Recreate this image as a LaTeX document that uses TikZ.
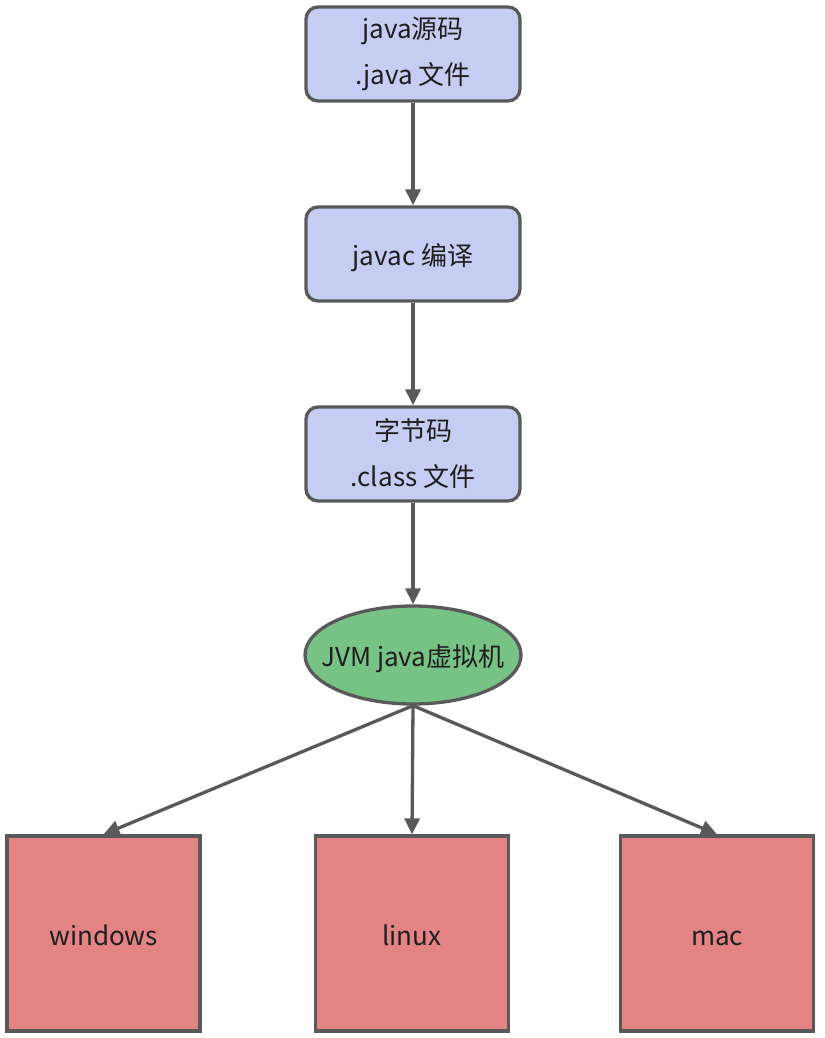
\documentclass[tikz,border=0pt]{standalone}
\usepackage{fontspec}
\setmainfont{Noto Sans CJK SC}
\usetikzlibrary{arrows.meta,shapes.geometric}
\definecolor{edge}{HTML}{595959}
\definecolor{bluefill}{HTML}{C6CDF2}
\definecolor{greenfill}{HTML}{77C386}
\definecolor{redfill}{HTML}{E48384}
\definecolor{txt}{HTML}{1E1E1E}
\begin{document}
\begin{tikzpicture}[x=1pt,y=-1pt,
  base/.style={draw=edge,line width=3.3pt,text=txt,font=\fontsize{26}{46}\selectfont,align=center,inner sep=0pt},
  oneline/.style={text height=23pt,text depth=0pt},
  stepbox/.style={base,fill=bluefill,rounded corners=12pt,minimum width=214pt,minimum height=94pt},
  vm/.style={base,oneline,fill=greenfill,ellipse,inner xsep=-30pt,minimum width=216pt,minimum height=98pt},
  osbox/.style={base,oneline,fill=redfill,minimum width=193pt,minimum height=195pt},
  conn/.style={draw=edge,line width=3.3pt,-{Triangle[length=16pt,width=15pt]}}]
\useasboundingbox (0,0) rectangle (824,1038);
\node[stepbox] (src) at (413,54) {java源码\\.java 文件};
\node[stepbox,oneline] (javac) at (413,254) {javac 编译};
\node[stepbox] (cls) at (413,454) {字节码\\.class 文件};
\node[vm] (jvm) at (413,655) {JVM java虚拟机};
\node[osbox] (win) at (103.5,933.5) {windows};
\node[osbox] (lin) at (412,933.5) {linux};
\node[osbox] (mac) at (717,933.5) {mac};
\draw[conn] (src) -- (javac);
\draw[conn] (javac) -- (cls);
\draw[conn] (cls) -- (jvm);
\draw[conn] (jvm.south) -- (win.north);
\draw[conn] (jvm.south) -- (lin.north);
\draw[conn] (jvm.south) -- (mac.north);
\end{tikzpicture}
\end{document}
